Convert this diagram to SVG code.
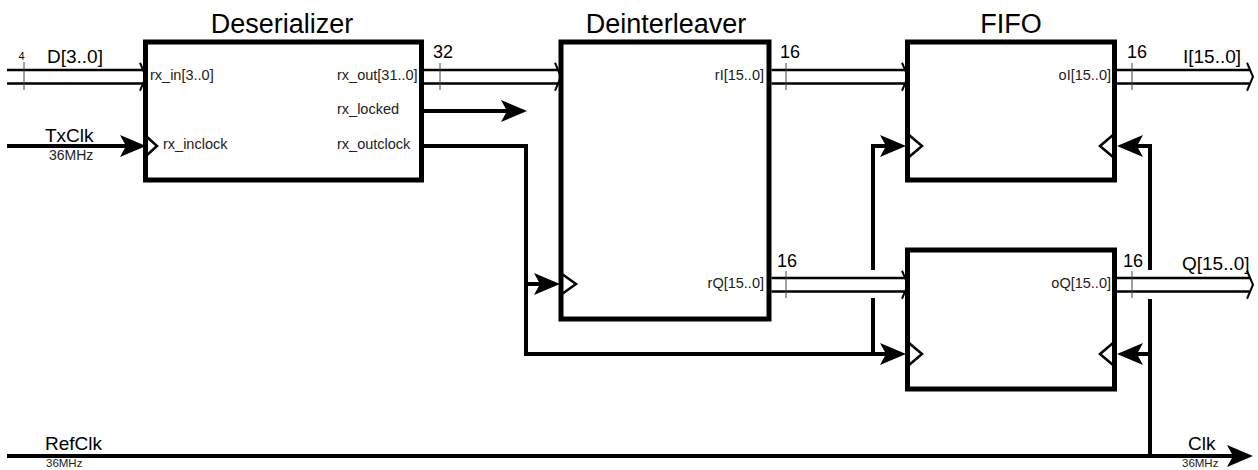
<svg xmlns="http://www.w3.org/2000/svg" xmlns:xlink="http://www.w3.org/1999/xlink" width="1258" height="470" viewBox="0 0 1258 470">
  <style>
    .box { fill: #fff; stroke: #000; stroke-width: 5; }
    .title { font-family: "Liberation Sans", Arial, sans-serif; font-size: 27px; fill: #000; text-anchor: middle; }
    .port { font-family: "Liberation Sans", Arial, sans-serif; font-size: 14.5px; fill: #222; }
    .portR { font-family: "Liberation Sans", Arial, sans-serif; font-size: 14.5px; fill: #222; text-anchor: end; }
    .sig { font-family: "Liberation Sans", Arial, sans-serif; font-size: 19px; fill: #000; }
    .freq { font-family: "Liberation Sans", Arial, sans-serif; font-size: 14px; fill: #222; }
    .freqB { font-family: "Liberation Sans", Arial, sans-serif; font-size: 11.5px; fill: #222; }
    .width { font-family: "Liberation Sans", Arial, sans-serif; font-size: 18px; fill: #000; }
    .bus { fill: none; stroke: #000; stroke-width: 2.5; }
    .tick { fill: none; stroke: #444; stroke-width: 1; }
    .clk { fill: none; stroke: #000; stroke-width: 4; }
    .clkin { fill: none; stroke: #000; stroke-width: 2.5; }
    .chev { fill: none; stroke: #000; stroke-width: 2; }
  </style>
  <defs>
    <path id="ah" d="M0,0 L-26,-11 L-20,0 L-26,11 Z" fill="#000"/>
    <path id="busEnd" d="M-6,-14 L0,0 L-6,14" class="chev"/>
  </defs>
  <rect width="1258" height="470" fill="#fff"/>

  <g id="connectors">
    <!-- D[3..0] bus -->
    <path class="bus" d="M7,70 H143 M7,83.5 H143"/>
    <use xlink:href="#busEnd" x="146" y="76.75"/>
    <line class="tick" x1="24" y1="62" x2="24" y2="90"/>
    <text x="21.5" y="60" font-family="Liberation Sans, Arial, sans-serif" font-size="11" text-anchor="middle">4</text>
    <text class="sig" x="47" y="63">D[3..0]</text>

    <!-- rx_out bus -->
    <path class="bus" d="M424,70 H558 M424,83.5 H558"/>
    <use xlink:href="#busEnd" x="561" y="76.75"/>
    <line class="tick" x1="440" y1="63" x2="440" y2="90"/>
    <text class="width" x="433" y="58">32</text>

    <!-- rI bus -->
    <path class="bus" d="M771.5,70 H905 M771.5,83.5 H905"/>
    <use xlink:href="#busEnd" x="908" y="76.75"/>
    <line class="tick" x1="786" y1="63" x2="786" y2="90"/>
    <text class="width" x="780" y="58">16</text>

    <!-- oI bus -->
    <path class="bus" d="M1117,70 H1250 M1117,83.5 H1250"/>
    <use xlink:href="#busEnd" x="1253" y="76.75"/>
    <line class="tick" x1="1132" y1="63" x2="1132" y2="90"/>
    <text class="width" x="1127" y="58">16</text>
    <text class="sig" x="1183" y="63">I[15..0]</text>

    <!-- rQ bus -->
    <path class="bus" d="M771.5,278 H905 M771.5,291.5 H905"/>
    <use xlink:href="#busEnd" x="908" y="284.75"/>
    <line class="tick" x1="786" y1="271" x2="786" y2="298"/>
    <text class="width" x="777" y="267">16</text>

    <!-- oQ bus -->
    <path class="bus" d="M1117,278 H1250 M1117,291.5 H1250"/>
    <use xlink:href="#busEnd" x="1253" y="284.75"/>
    <line class="tick" x1="1132" y1="271" x2="1132" y2="298"/>
    <text class="width" x="1123" y="267">16</text>
    <text class="sig" x="1182" y="270">Q[15..0]</text>

    <!-- TxClk -->
    <path class="clk" d="M7,146 H126"/>
    <use xlink:href="#ah" transform="translate(146,146)"/>
    <text class="sig" x="45" y="142">TxClk</text>
    <text class="freq" x="49" y="160">36MHz</text>

    <!-- rx_locked -->
    <path class="clk" d="M424,111 H507"/>
    <use xlink:href="#ah" transform="translate(527,111)"/>

    <!-- rx_outclock -->
    <path class="clk" d="M424,146 H526 V354 H886"/>
    <use xlink:href="#ah" transform="translate(906,354)"/>
    <path class="clk" d="M526,284 H540"/>
    <use xlink:href="#ah" transform="translate(560,284)"/>
    <path class="clk" d="M873,354 V298 M873,270 V146 H886"/>
    <use xlink:href="#ah" transform="translate(906,146)"/>

    <!-- RefClk / Clk -->
    <path class="clk" d="M7,456 H1233"/>
    <use xlink:href="#ah" transform="translate(1253,456)"/>
    <text class="sig" x="45" y="450">RefClk</text>
    <text class="freqB" x="46" y="467">36MHz</text>
    <text class="sig" x="1188" y="450">Clk</text>
    <text class="freqB" x="1182" y="467">36MHz</text>

    <path class="clk" d="M1150,456 V299 M1150,270 V146 H1137"/>
    <use xlink:href="#ah" transform="translate(1117,146) rotate(180)"/>
    <path class="clk" d="M1150,354 H1137"/>
    <use xlink:href="#ah" transform="translate(1117,354) rotate(180)"/>
  </g>

  <g id="deserializer">
    <text class="title" x="282" y="33">Deserializer</text>
    <rect class="box" x="145.5" y="42" width="276" height="138"/>
    <path class="clkin" d="M146,136 L157,146 L146,156"/>
    <text class="port" x="150" y="80">rx_in[3..0]</text>
    <text class="port" x="163" y="149">rx_inclock</text>
    <text class="port" x="337" y="80">rx_out[31..0]</text>
    <text class="port" x="337" y="114">rx_locked</text>
    <text class="port" x="337" y="149">rx_outclock</text>
  </g>

  <g id="deinterleaver">
    <text class="title" x="666" y="33">Deinterleaver</text>
    <rect class="box" x="561" y="42" width="208" height="277"/>
    <path class="clkin" d="M562,274 L576,284 L562,294"/>
    <text class="portR" x="764" y="80">rI[15..0]</text>
    <text class="portR" x="764" y="288">rQ[15..0]</text>
  </g>

  <g id="fifo-i">
    <text class="title" x="1011" y="33">FIFO</text>
    <rect class="box" x="907.5" y="42" width="207" height="138"/>
    <path class="clkin" d="M909,135 L922,146 L909,157"/>
    <path class="clkin" d="M1113,135 L1100,146 L1113,157"/>
    <text class="portR" x="1111" y="80">oI[15..0]</text>
  </g>

  <g id="fifo-q">
    <rect class="box" x="907.5" y="250" width="207" height="139"/>
    <path class="clkin" d="M909,343 L922,354 L909,365"/>
    <path class="clkin" d="M1113,343 L1100,354 L1113,365"/>
    <text class="portR" x="1111" y="288">oQ[15..0]</text>
  </g>
</svg>
